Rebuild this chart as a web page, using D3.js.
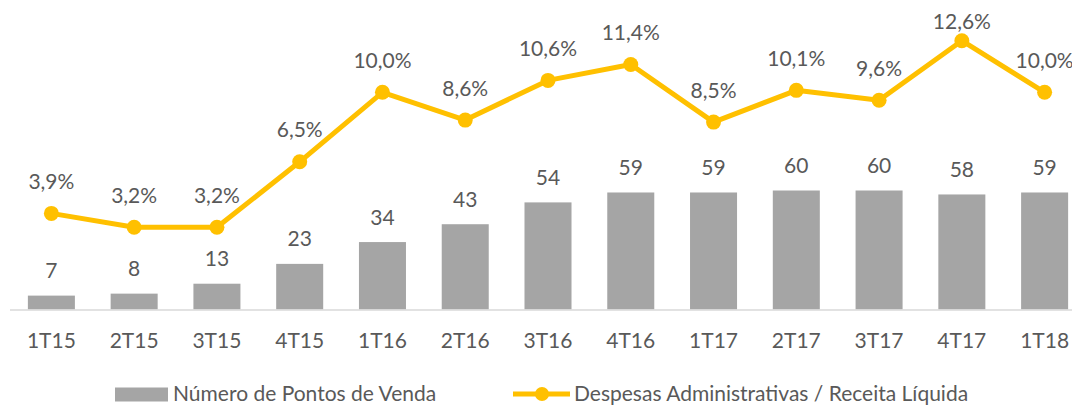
<!DOCTYPE html>
<html>
<head>
<meta charset="utf-8">
<script src="https://cdn.jsdelivr.net/npm/d3@7"></script>
<style>
  body { margin: 0; background: #fff; }
  text { font-family: Lato, "Open Sans", sans-serif; fill: #595959; }
</style>
</head>
<body>
<div id="chart"></div>
<script>
var periods = ["1T15","2T15","3T15","4T15","1T16","2T16","3T16","4T16","1T17","2T17","3T17","4T17","1T18"];
var pontos = [7, 8, 13, 23, 34, 43, 54, 59, 59, 60, 60, 58, 59];
var despesas = [3.9, 3.2, 3.2, 6.5, 10.0, 8.6, 10.6, 11.4, 8.5, 10.1, 9.6, 12.6, 10.0];
var barName = "Número de Pontos de Venda";
var lineName = "Despesas Administrativas / Receita Líquida";

var cfg = { width: 1072, height: 405, fontSize: "21px" };
var svg = d3.select("#chart").append("svg")
  .attr("width", cfg.width).attr("height", cfg.height);

var baseY = 309.5;

// x bands
var x = d3.scaleBand()
  .domain(periods)
  .range([10, 1086])
  .paddingInner(0.432)
  .paddingOuter(0.216);

var cx = function(d, i) { return x(periods[i]) + x.bandwidth() / 2; };

// bar scale (count) and line scale (%)
var yBar = d3.scaleLinear().domain([0, 60]).range([baseY, baseY - 119]);
var yLine = d3.scaleLinear().domain([3.2, 12.6]).range([227.3, 40.7]);

var fmt = function(v) { return d3.format(".1f")(v).replace(".", ",") + "%"; };

// bars
svg.append("g").selectAll("rect")
  .data(pontos).enter().append("rect")
    .attr("x", function(d, i) { return x(periods[i]); })
    .attr("y", function(d) { return yBar(d); })
    .attr("width", x.bandwidth())
    .attr("height", function(d) { return baseY - yBar(d); })
    .style("fill", "#a5a5a5");

// axis baseline
svg.append("line")
  .attr("x1", 10).attr("x2", cfg.width)
  .attr("y1", baseY + 0.5).attr("y2", baseY + 0.5)
  .style("stroke", "#d9d9d9").style("stroke-width", 1.5);

// bar labels
svg.append("g").selectAll("text")
  .data(pontos).enter().append("text")
    .attr("x", cx)
    .attr("y", function(d) { return yBar(d) - 17.5; })
    .attr("text-anchor", "middle")
    .style("font-size", cfg.fontSize)
    .text(function(d) { return d; });

// x tick labels
svg.append("g").selectAll("text")
  .data(periods).enter().append("text")
    .attr("x", cx)
    .attr("y", 348)
    .attr("text-anchor", "middle")
    .style("font-size", cfg.fontSize)
    .text(function(d) { return d; });

// line
var line = d3.line()
  .x(cx)
  .y(function(d) { return yLine(d); });

svg.append("path")
  .datum(despesas)
  .attr("d", line)
  .style("fill", "none")
  .style("stroke", "#ffc000")
  .style("stroke-width", 5)
  .style("stroke-linejoin", "round");

svg.append("g").selectAll("circle")
  .data(despesas).enter().append("circle")
    .attr("cx", cx)
    .attr("cy", function(d) { return yLine(d); })
    .attr("r", 7.5)
    .style("fill", "#ffc000");

// line labels (kept inside the top edge, like the original)
svg.append("g").selectAll("text")
  .data(despesas).enter().append("text")
    .attr("x", cx)
    .attr("y", function(d) { return Math.max(yLine(d) - 24.5, 28.5); })
    .attr("text-anchor", "middle")
    .style("font-size", cfg.fontSize)
    .text(function(d) { return fmt(d); });

// legend
var lg = svg.append("g");
lg.append("rect")
  .attr("x", 115).attr("y", 387.5).attr("width", 53).attr("height", 14)
  .style("fill", "#a5a5a5");
lg.append("text")
  .attr("x", 173).attr("y", 401)
  .style("font-size", cfg.fontSize)
  .text(barName);
lg.append("line")
  .attr("x1", 513).attr("x2", 570).attr("y1", 394).attr("y2", 394)
  .style("stroke", "#ffc000").style("stroke-width", 5);
lg.append("circle")
  .attr("cx", 542).attr("cy", 394).attr("r", 7)
  .style("fill", "#ffc000");
lg.append("text")
  .attr("x", 574).attr("y", 401)
  .style("font-size", cfg.fontSize)
  .text(lineName);
</script>
</body>
</html>
